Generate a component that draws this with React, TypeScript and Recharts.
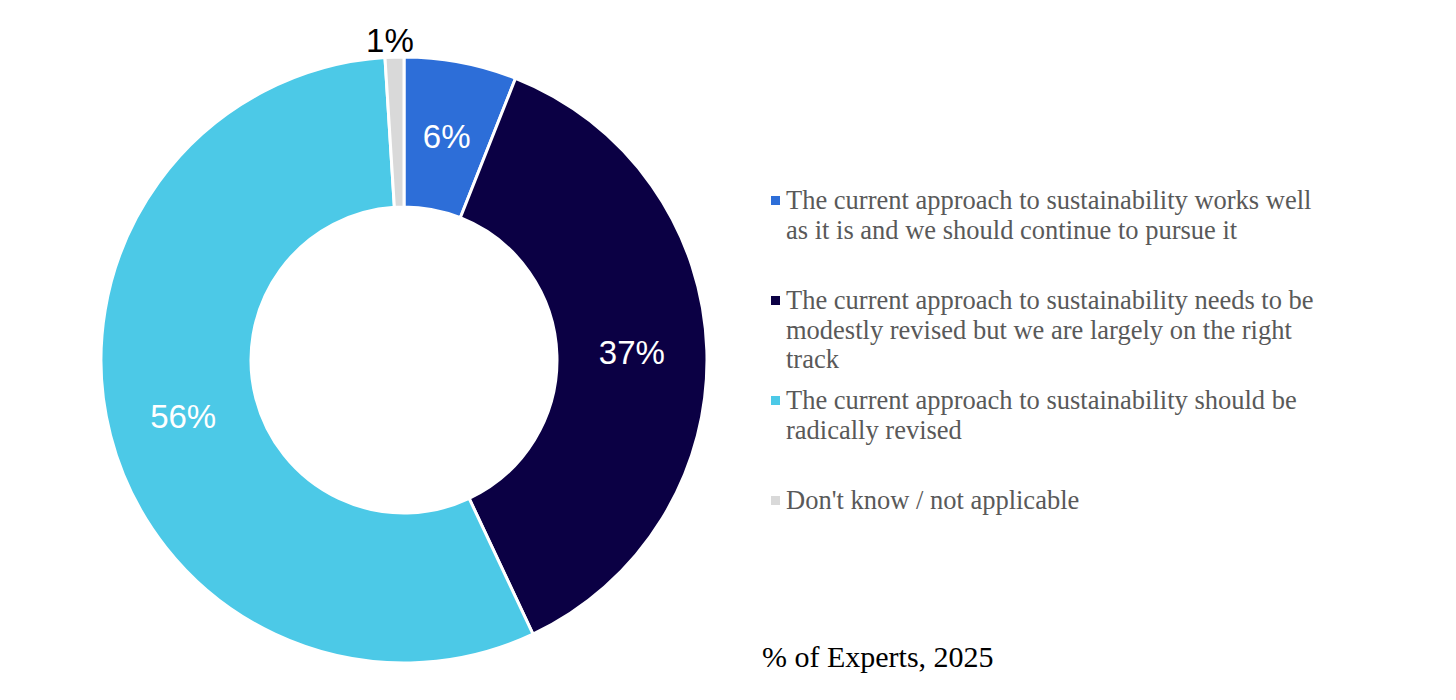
import React from "react";
import { PieChart, Pie, Cell, Legend } from "recharts";

const categories: string[] = [
  "The current approach to sustainability works well\nas it is and we should continue to pursue it",
  "The current approach to sustainability needs to be\nmodestly revised but we are largely on the right\ntrack",
  "The current approach to sustainability should be\nradically revised",
  "Don't know / not applicable",
];
const values: number[] = [6, 37, 56, 1];
const colors: string[] = ["#2D6ED8", "#0B0044", "#4CC9E7", "#D9D9D9"];
const title = "% of Experts, 2025";

const data = categories.map((name, i) => ({ name, value: values[i] }));

const RAD = Math.PI / 180;

const renderLabel = (props: any) => {
  const { cx, cy, midAngle, innerRadius, outerRadius, value } = props;
  const small = value < 3;
  const r = small ? outerRadius + 17 : (innerRadius + outerRadius) / 2;
  const x = cx + r * Math.cos(-midAngle * RAD);
  const y = cy + r * Math.sin(-midAngle * RAD);
  return (
    <text
      x={small ? x - 4 : x}
      y={y}
      fill={small ? "#000000" : "#FFFFFF"}
      textAnchor="middle"
      dominantBaseline="central"
      style={{ fontFamily: "'Liberation Sans', Arial, sans-serif", fontSize: 33 }}
    >
      {`${value}%`}
    </text>
  );
};

const renderLegend = (props: any) => {
  const payload = [...(props.payload || [])].sort(
    (a: any, b: any) => categories.indexOf(a.value) - categories.indexOf(b.value)
  );
  return (
    <div style={{ fontFamily: "'Liberation Serif', serif", fontSize: 26.5, color: "#595959" }}>
      {payload.map((entry: any, i: number) => (
        <div key={i} style={{ position: "relative", height: 100, paddingLeft: 15 }}>
          <div
            style={{
              position: "absolute",
              left: 0,
              top: 10,
              width: 9,
              height: 9,
              background: entry.color,
            }}
          />
          <div style={{ whiteSpace: "pre-line", lineHeight: "29.5px", textAlign: "left" }}>
            {entry.value}
          </div>
        </div>
      ))}
    </div>
  );
};

export default function App() {
  return (
    <div style={{ position: "relative", width: 1440, height: 684 }}>
      <PieChart width={1440} height={684} margin={{ top: 0, right: 0, bottom: 0, left: 0 }}>
        <Pie
          data={data}
          dataKey="value"
          nameKey="name"
          cx={396}
          cy={352}
          innerRadius={153}
          outerRadius={303}
          startAngle={90}
          endAngle={-270}
          stroke="#FFFFFF"
          strokeWidth={3}
          label={renderLabel}
          labelLine={false}
          isAnimationActive={false}
        >
          {data.map((_, i) => (
            <Cell key={i} fill={colors[i]} />
          ))}
        </Pie>
        <Legend
          layout="vertical"
          align="right"
          verticalAlign="top"
          content={renderLegend}
          wrapperStyle={{ left: 763, top: 178, width: 640 }}
        />
      </PieChart>
      <div
        style={{
          position: "absolute",
          left: 754,
          top: 632,
          fontFamily: "'Liberation Serif', serif",
          fontSize: 30,
          color: "#000000",
          whiteSpace: "nowrap",
        }}
      >
        {title}
      </div>
    </div>
  );
}
